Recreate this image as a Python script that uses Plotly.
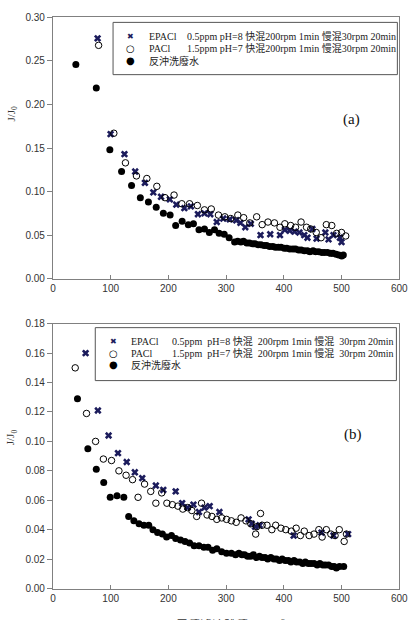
import plotly.graph_objects as go

# ---------------- data: panel (a) ----------------
a_epacl_x = [77.4, 99.9, 123.9, 142.5, 159.3, 173.9, 187.3, 202.5, 213.7, 227.7, 238.9, 251.2, 262.5, 272.6,
             283.8, 295.0, 306.3, 317.5, 324.8, 333.2, 342.8, 359.6, 376.4, 393.3, 401.7, 410.1, 418.5, 426.9,
             435.4, 440.9, 449.4, 456.7, 471.9, 477.4, 485.9, 497.1, 499.9]
a_epacl_y = [0.276, 0.166, 0.143, 0.123, 0.110, 0.099, 0.094, 0.091, 0.085, 0.081, 0.083, 0.074, 0.075, 0.074,
             0.065, 0.069, 0.068, 0.067, 0.064, 0.059, 0.063, 0.050, 0.051, 0.050, 0.056, 0.055, 0.054, 0.053,
             0.050, 0.047, 0.057, 0.046, 0.053, 0.045, 0.050, 0.047, 0.042]

a_pacl_x = [79.1, 105.5, 125.6, 144.7, 162.7, 180.0, 194.1, 209.8, 223.2, 236.7, 250.2, 262.5, 274.3, 286.7,
            297.8, 308.0, 320.3, 330.4, 341.0, 352.9, 362.4, 372.5, 383.7, 393.3, 401.7, 411.8, 420.2, 429.8,
            439.3, 446.6, 456.1, 464.5, 473.6, 483.0, 491.4, 499.9, 507.2]
a_pacl_y = [0.268, 0.167, 0.133, 0.118, 0.115, 0.106, 0.093, 0.096, 0.086, 0.086, 0.084, 0.079, 0.080, 0.073,
            0.071, 0.069, 0.073, 0.070, 0.064, 0.071, 0.062, 0.065, 0.064, 0.059, 0.063, 0.061, 0.059, 0.065,
            0.059, 0.057, 0.053, 0.047, 0.062, 0.061, 0.052, 0.053, 0.049]

a_bw_x = [39.7, 75.1, 98.6, 118.9, 136.2, 151.4, 165.4, 178.9, 191.3, 203.0, 212.6, 223.8, 234.5, 243.4,
          253.0, 262.5, 270.9, 279.9, 287.8, 296.7, 305.2, 314.7, 320.0, 325.5, 330.2, 335.8, 340.4, 345.7,
          350.1, 355.6, 360.3, 365.8, 370.2, 375.4, 380.9, 385.3, 390.6, 395.2, 400.7, 405.1, 410.4, 415.8,
          420.3, 425.6, 430.1, 435.5, 440.8, 445.2, 450.6, 455.1, 460.4, 465.7, 470.2, 475.5, 480.9, 485.3,
          490.6, 495.1, 500.2, 503.0]
a_bw_y = [0.246, 0.219, 0.148, 0.123, 0.107, 0.093, 0.088, 0.082, 0.075, 0.073, 0.061, 0.066, 0.062, 0.063,
          0.056, 0.057, 0.053, 0.056, 0.052, 0.051, 0.047, 0.042, 0.043, 0.042, 0.043, 0.041, 0.041, 0.040,
          0.040, 0.039, 0.039, 0.038, 0.038, 0.037, 0.037, 0.036, 0.036, 0.036, 0.035, 0.035, 0.034, 0.034,
          0.034, 0.033, 0.033, 0.032, 0.032, 0.031, 0.032, 0.031, 0.031, 0.030, 0.030, 0.030, 0.029, 0.029,
          0.028, 0.027, 0.026, 0.027]

# ---------------- data: panel (b) ----------------
b_epacl_x = [56.6, 77.9, 96.4, 112.7, 127.8, 141.9, 154.7, 178.3, 191.2, 212.6, 223.8, 233.3, 243.4, 253.0,
             262.5, 271.5, 288.4, 338.9, 344.5, 350.1, 358.0, 417.0, 465.2, 486.0, 511.3]
b_epacl_y = [0.160, 0.121, 0.104, 0.092, 0.086, 0.079, 0.075, 0.070, 0.067, 0.066, 0.058, 0.055, 0.057, 0.052,
             0.055, 0.056, 0.052, 0.047, 0.044, 0.042, 0.043, 0.036, 0.038, 0.036, 0.037]

b_pacl_x = [38.6, 58.2, 73.9, 87.4, 101.5, 114.3, 126.7, 137.9, 147.5, 158.7, 169.4, 178.3, 188.4, 197.4,
            206.9, 216.5, 224.9, 233.3, 240.6, 249.0, 257.4, 267.0, 275.4, 283.8, 292.3, 300.7, 309.1, 317.5,
            325.9, 334.3, 342.8, 351.2, 352.9, 359.6, 362.4, 370.8, 379.2, 385.9, 394.9, 403.3, 412.9, 421.3,
            428.6, 435.4, 443.8, 452.2, 460.6, 466.3, 473.6, 481.4, 488.7, 496.0, 504.5, 508.4]
b_pacl_y = [0.150, 0.119, 0.100, 0.088, 0.087, 0.080, 0.077, 0.074, 0.062, 0.071, 0.066, 0.058, 0.065, 0.058,
            0.057, 0.056, 0.054, 0.055, 0.053, 0.049, 0.058, 0.050, 0.049, 0.047, 0.048, 0.047, 0.046, 0.045,
            0.048, 0.046, 0.044, 0.037, 0.042, 0.051, 0.043, 0.043, 0.040, 0.043, 0.041, 0.040, 0.039, 0.041,
            0.036, 0.039, 0.036, 0.037, 0.040, 0.035, 0.040, 0.037, 0.036, 0.040, 0.032, 0.037]

b_bw_x = [42.5, 60.5, 75.1, 88.0, 99.2, 111.0, 122.8, 131.2, 140.2, 149.2, 157.6, 166.0, 173.3, 181.2,
          189.6, 196.9, 205.3, 212.6, 221.0, 228.9, 236.7, 244.6, 253.0, 261.5, 268.7, 276.6, 283.9, 292.3,
          300.7, 309.1, 316.4, 322.1, 327.4, 332.0, 337.3, 342.6, 347.1, 352.4, 357.8, 362.2, 367.5, 372.1,
          377.4, 382.8, 387.2, 392.5, 397.1, 402.4, 407.8, 412.3, 417.6, 422.1, 427.5, 432.8, 437.2, 442.5,
          447.1, 452.4, 457.8, 462.3, 467.6, 472.1, 477.5, 482.8, 487.2, 491.0, 496.3, 503.7]
b_bw_y = [0.129, 0.095, 0.081, 0.072, 0.062, 0.063, 0.062, 0.049, 0.046, 0.044, 0.043, 0.043, 0.040, 0.038,
          0.037, 0.035, 0.036, 0.034, 0.033, 0.032, 0.031, 0.029, 0.029, 0.028, 0.028, 0.026, 0.027, 0.025,
          0.024, 0.024, 0.023, 0.024, 0.023, 0.023, 0.022, 0.022, 0.023, 0.021, 0.022, 0.021, 0.021, 0.020,
          0.021, 0.020, 0.020, 0.019, 0.020, 0.019, 0.019, 0.018, 0.019, 0.018, 0.018, 0.017, 0.018, 0.017,
          0.017, 0.017, 0.016, 0.017, 0.016, 0.016, 0.016, 0.015, 0.015, 0.014, 0.015, 0.015]

x_ticks = [0, 100, 200, 300, 400, 500, 600]
a_y_ticks = [0.00, 0.05, 0.10, 0.15, 0.20, 0.25, 0.30]
b_y_ticks = [0.00, 0.02, 0.04, 0.06, 0.08, 0.10, 0.12, 0.14, 0.16, 0.18]

leg_names = ["EPACl", "PACl", "反沖洗廢水"]
leg_a_desc = ["0.5ppm pH=8 快混200rpm 1min 慢混30rpm 20min",
              "1.5ppm pH=7 快混200rpm 1min 慢混30rpm 20min"]
leg_b_desc = ["0.5ppm\u00a0 pH=8 快混\u00a0 200rpm 1min 慢混\u00a0 30rpm 20min",
              "1.5ppm\u00a0 pH=7 快混\u00a0 200rpm 1min 慢混\u00a0 30rpm 20min"]

# ---------------- styling ----------------
W, H = 419, 620
NAVY = "#1c1c5c"
AXC = "#808080"
SERIF = "Liberation Serif, Times New Roman, Noto Sans CJK TC, serif"
SANS = "Liberation Sans, Arial, sans-serif"

def px_x(p):
    return p / W

def px_y(p):
    return (H - p) / H

fig = go.Figure()

def add_panel(xa, ya, ex, ey, px_, py_, bx, by):
    fig.add_trace(go.Scatter(x=ex, y=ey, mode="markers", xaxis=xa, yaxis=ya, showlegend=False,
                             marker=dict(symbol="x", size=6.5, color=NAVY, line=dict(width=0))))
    fig.add_trace(go.Scatter(x=px_, y=py_, mode="markers", xaxis=xa, yaxis=ya, showlegend=False,
                             marker=dict(symbol="circle-open", size=6.5, color="black", line=dict(width=1))))
    fig.add_trace(go.Scatter(x=bx, y=by, mode="markers", xaxis=xa, yaxis=ya, showlegend=False,
                             marker=dict(symbol="circle", size=7, color="black", line=dict(width=0))))

add_panel("x", "y", a_epacl_x, a_epacl_y, a_pacl_x, a_pacl_y, a_bw_x, a_bw_y)
add_panel("x2", "y2", b_epacl_x, b_epacl_y, b_pacl_x, b_pacl_y, b_bw_x, b_bw_y)

xdom = [px_x(51.4), px_x(408)]
xcommon = dict(range=[0, 600], tickvals=x_ticks, ticks="inside", ticklen=4, tickcolor=AXC,
               showline=True, linecolor=AXC, linewidth=1, mirror=True, showgrid=False, zeroline=False,
               tickfont=dict(family=SANS, size=10, color="#333333"), domain=xdom)
ycommon = dict(ticks="outside", ticklen=5, tickcolor=AXC, showline=True, linecolor=AXC, linewidth=1,
               mirror=True, showgrid=False, zeroline=False, tickformat=".2f",
               tickfont=dict(family=SANS, size=10, color="#333333"))

fig.update_layout(
    width=W, height=H, margin=dict(l=0, r=0, t=0, b=0),
    paper_bgcolor="white", plot_bgcolor="white", showlegend=False,
    xaxis=dict(**xcommon, anchor="y"),
    yaxis=dict(**ycommon, range=[0, 0.30], tickvals=a_y_ticks, anchor="x",
               domain=[px_y(278), px_y(11.7)]),
    xaxis2=dict(**xcommon, anchor="y2"),
    yaxis2=dict(**ycommon, range=[0, 0.18], tickvals=b_y_ticks, anchor="x2",
                domain=[px_y(594), px_y(324)]),
)

annotations = []
shapes = []

def legend_box(x0, x1, y0, y1, mx, tx1, tx2, rows, descs):
    shapes.append(dict(type="rect", xref="paper", yref="paper", x0=px_x(x0), x1=px_x(x1),
                       y0=px_y(y1), y1=px_y(y0), line=dict(color="#555555", width=1)))
    glyphs = [("✖", NAVY, 8), ("○", "black", 10), ("●", "black", 10)]
    for i, (g, c, s) in enumerate(glyphs):
        annotations.append(dict(xref="paper", yref="paper", x=px_x(mx), y=px_y(rows[i]), text=g,
                                showarrow=False, xanchor="center", yanchor="middle",
                                font=dict(family="DejaVu Sans", size=s, color=c)))
    for i, name in enumerate(leg_names):
        annotations.append(dict(xref="paper", yref="paper", x=px_x(tx1), y=px_y(rows[i]), text=name,
                                showarrow=False, xanchor="left", yanchor="middle",
                                font=dict(family=SERIF, size=10, color="#222222")))
    for i, d in enumerate(descs):
        annotations.append(dict(xref="paper", yref="paper", x=px_x(tx2), y=px_y(rows[i]), text=d,
                                showarrow=False, xanchor="left", yanchor="middle",
                                font=dict(family=SERIF, size=10, color="#222222")))

legend_box(113.3, 406, 16.7, 70, 131.7, 148, 187, [31, 43.5, 56], leg_a_desc)
legend_box(95, 405, 328, 382, 114, 130, 172, [342, 354, 366], leg_b_desc)

# panel labels
annotations.append(dict(xref="paper", yref="paper", x=px_x(359), y=px_y(116), text="(a)",
                        showarrow=False, xanchor="center", yanchor="middle",
                        font=dict(family=SERIF, size=15, color="#111111")))
annotations.append(dict(xref="paper", yref="paper", x=px_x(360), y=px_y(437), text="(b)",
                        showarrow=False, xanchor="center", yanchor="middle",
                        font=dict(family=SERIF, size=15, color="#111111")))
# y titles
for yc in (110, 440):
    annotations.append(dict(xref="paper", yref="paper", x=px_x(9), y=px_y(yc), text="J/J<sub>0</sub>",
                            showarrow=False, xanchor="center", yanchor="middle", textangle=-90,
                            font=dict(family=SERIF, size=11, color="#333333")))
# x title (cut off at the bottom of the image)
annotations.append(dict(xref="paper", yref="paper", x=px_x(236), y=px_y(622), text="累積濾液體積 V (cm<sup>3</sup>)",
                        showarrow=False, xanchor="center", yanchor="top",
                        font=dict(family=SERIF, size=12, color="#333333")))

fig.update_layout(annotations=annotations, shapes=shapes)
fig.write_html("out.html")
